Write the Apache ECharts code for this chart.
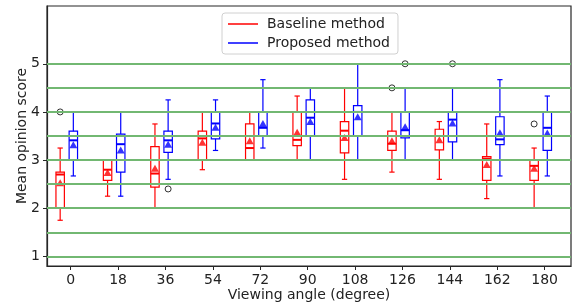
<!DOCTYPE html>
<html>
<head>
<meta charset="utf-8">
<script src="https://cdn.jsdelivr.net/npm/echarts@6/dist/echarts.min.js"></script>
<style>
html, body { margin: 0; padding: 0; background: #fff; }
#main { width: 575px; height: 304px; }
</style>
</head>
<body>
<div id="main"></div>
<script>
// viewing angles (x categories, in degrees)
var angles = [0, 18, 36, 54, 72, 90, 108, 126, 144, 162, 180];
var xTicks = [0, 18, 36, 54, 72, 90, 108, 126, 144, 162, 180];
var yTicks = [1, 2, 3, 4, 5];
var gridValues = [1, 1.5, 2, 2.5, 3, 3.5, 4, 4.5, 5];

// baseline method (red): whisker low, Q1, median, Q3, whisker high, mean
var baseLow  = [1.75, 2.25, 2.0, 2.8, 3.0, 3.0, 2.6, 2.75, 2.6, 2.2, 2.0];
var baseQ1   = [2.0, 2.58, 2.44, 3.0, 3.0, 3.3, 3.15, 3.2, 3.21, 2.58, 2.58];
var baseMed  = [2.7, 2.8, 2.72, 3.45, 3.25, 3.42, 3.61, 3.34, 3.5, 3.03, 2.88];
var baseQ3   = [2.75, 3.0, 3.28, 3.6, 3.75, 4.0, 3.8, 3.6, 3.64, 3.07, 3.0];
var baseHigh = [3.25, 3.0, 3.75, 4.0, 4.0, 4.33, 4.5, 4.0, 3.8, 3.75, 3.25];
var baseMean = [2.53, 2.74, 2.83, 3.37, 3.4, 3.58, 3.47, 3.4, 3.42, 2.91, 2.83];
var baseOutliers = [[0, 4.0], [126, 4.5], [180, 3.75]];

// proposed method (blue)
var propLow  = [2.67, 2.25, 2.6, 3.2, 3.25, 3.0, 3.0, 3.0, 3.0, 2.67, 2.67];
var propQ1   = [3.0, 2.75, 3.16, 3.44, 3.5, 3.5, 3.5, 3.46, 3.38, 3.32, 3.2];
var propMed  = [3.41, 3.33, 3.41, 3.76, 3.67, 3.88, 4.0, 3.62, 3.84, 3.43, 3.67];
var propQ3   = [3.6, 3.54, 3.6, 4.0, 4.0, 4.25, 4.13, 4.0, 4.0, 3.9, 4.0];
var propHigh = [4.0, 4.0, 4.25, 4.25, 4.67, 4.5, 5.0, 4.5, 4.5, 4.67, 4.33];
var propMean = [3.32, 3.21, 3.33, 3.68, 3.76, 3.8, 3.9, 3.69, 3.77, 3.57, 3.56];
var propOutliers = [[36, 2.4], [126, 5.0], [144, 5.0]];

var RED = '#ff0000';
var BLUE = '#0000ff';
var BASE_SHIFT = -4;   // boxes sit a little left/right of the tick
var PROP_SHIFT = 1;

var myChart = echarts.init(document.getElementById('main'));

function boxData(shift, lo, q1, med, q3, hi) {
    return angles.map(function (a, i) {
        return [a + shift, lo[i], q1[i], med[i], q3[i], hi[i]];
    });
}
function meanData(shift, mean) {
    return angles.map(function (a, i) { return [a + shift, mean[i]]; });
}
function outlierData(shift, list) {
    return list.map(function (p) { return [p[0] + shift, p[1]]; });
}

function makeRender(color) {
    return function (params, api) {
        var x = api.value(0);
        var pLow = api.coord([x, api.value(1)]);
        var pQ1 = api.coord([x, api.value(2)]);
        var pMed = api.coord([x, api.value(3)]);
        var pQ3 = api.coord([x, api.value(4)]);
        var pHigh = api.coord([x, api.value(5)]);
        var bw = api.size([3.2, 0])[0];
        var cw = api.size([2, 0])[0];
        var cx = pQ1[0];
        var st = { stroke: color, lineWidth: 1.2, fill: null };
        return {
            type: 'group',
            children: [
                { type: 'rect', shape: { x: cx - bw / 2, y: pQ3[1], width: bw, height: pQ1[1] - pQ3[1] }, style: st },
                { type: 'line', shape: { x1: cx, y1: pQ3[1], x2: cx, y2: pHigh[1] }, style: st },
                { type: 'line', shape: { x1: cx, y1: pQ1[1], x2: cx, y2: pLow[1] }, style: st },
                { type: 'line', shape: { x1: cx - cw / 2, y1: pHigh[1], x2: cx + cw / 2, y2: pHigh[1] }, style: st },
                { type: 'line', shape: { x1: cx - cw / 2, y1: pLow[1], x2: cx + cw / 2, y2: pLow[1] }, style: st },
                { type: 'line', shape: { x1: cx - bw / 2, y1: pMed[1], x2: cx + bw / 2, y2: pMed[1] }, style: { stroke: color, lineWidth: 2 } }
            ]
        };
    };
}

var option = {
    animation: false,
    textStyle: { fontFamily: 'DejaVu Sans' },
    grid: {
        left: 47, right: 4, top: 6, bottom: 38,
        outerBoundsMode: 'none',
        show: true, borderColor: '#262626', borderWidth: 1.2, backgroundColor: 'transparent'
    },
    legend: {
        orient: 'vertical',
        left: 222, top: 13,
        padding: [4, 8, 4, 6],
        itemGap: 5,
        itemWidth: 30, itemHeight: 1.5,
        backgroundColor: '#fff',
        borderColor: '#d0d0d0', borderWidth: 1, borderRadius: 3,
        textStyle: { fontSize: 14, color: '#222', fontFamily: 'DejaVu Sans', padding: [0, 0, 0, 4] },
        data: [
            { name: 'Baseline method', icon: 'rect' },
            { name: 'Proposed method', icon: 'rect' }
        ]
    },
    xAxis: {
        type: 'value',
        min: -9, max: 190,
        name: 'Viewing angle (degree)',
        nameLocation: 'middle', nameGap: 22, nameMoveOverlap: false,
        nameTextStyle: { fontSize: 14, color: '#222' },
        axisLine: { show: true, onZero: false, lineStyle: { color: '#262626', width: 1.2 } },
        axisTick: { show: true, length: 4, customValues: xTicks, lineStyle: { color: '#262626' } },
        axisLabel: { fontSize: 14, color: '#222', margin: 7, customValues: xTicks },
        splitLine: { show: false }
    },
    yAxis: {
        type: 'value',
        min: 0.8, max: 6.2,
        name: 'Mean opinion score',
        nameLocation: 'middle', nameGap: 18, nameMoveOverlap: false,
        nameTextStyle: { fontSize: 14, color: '#222' },
        axisLine: { show: true, onZero: false, lineStyle: { color: '#262626', width: 1.2 } },
        axisTick: { show: true, length: 4, customValues: yTicks, lineStyle: { color: '#262626' } },
        axisLabel: { fontSize: 14, color: '#222', margin: 7, customValues: yTicks },
        splitLine: { show: false }
    },
    series: [
        {
            name: 'grid',
            type: 'line',
            data: [],
            z: 0,
            markLine: {
                silent: true,
                symbol: 'none',
                label: { show: false },
                lineStyle: { color: '#72b872', width: 1.8, type: 'solid' },
                data: gridValues.map(function (v) { return { yAxis: v }; })
            }
        },
        {
            name: 'Baseline method',
            type: 'custom',
            itemStyle: { color: RED },
            renderItem: makeRender(RED),
            encode: { x: 0, y: [1, 2, 3, 4, 5] },
            data: boxData(BASE_SHIFT, baseLow, baseQ1, baseMed, baseQ3, baseHigh),
            z: 3
        },
        {
            name: 'Proposed method',
            type: 'custom',
            itemStyle: { color: BLUE },
            renderItem: makeRender(BLUE),
            encode: { x: 0, y: [1, 2, 3, 4, 5] },
            data: boxData(PROP_SHIFT, propLow, propQ1, propMed, propQ3, propHigh),
            z: 3
        },
        {
            name: 'Baseline method',
            type: 'scatter',
            symbol: 'triangle', symbolSize: [8, 7],
            itemStyle: { color: RED },
            data: meanData(BASE_SHIFT, baseMean),
            z: 4
        },
        {
            name: 'Proposed method',
            type: 'scatter',
            symbol: 'triangle', symbolSize: [8, 7],
            itemStyle: { color: BLUE },
            data: meanData(PROP_SHIFT, propMean),
            z: 4
        },
        {
            name: 'outliers',
            type: 'scatter',
            symbol: 'circle', symbolSize: 6,
            itemStyle: { color: 'transparent', borderColor: '#000', borderWidth: 1 },
            data: outlierData(BASE_SHIFT, baseOutliers).concat(outlierData(PROP_SHIFT, propOutliers)),
            z: 4
        }
    ]
};

myChart.setOption(option);
</script>
</body>
</html>
